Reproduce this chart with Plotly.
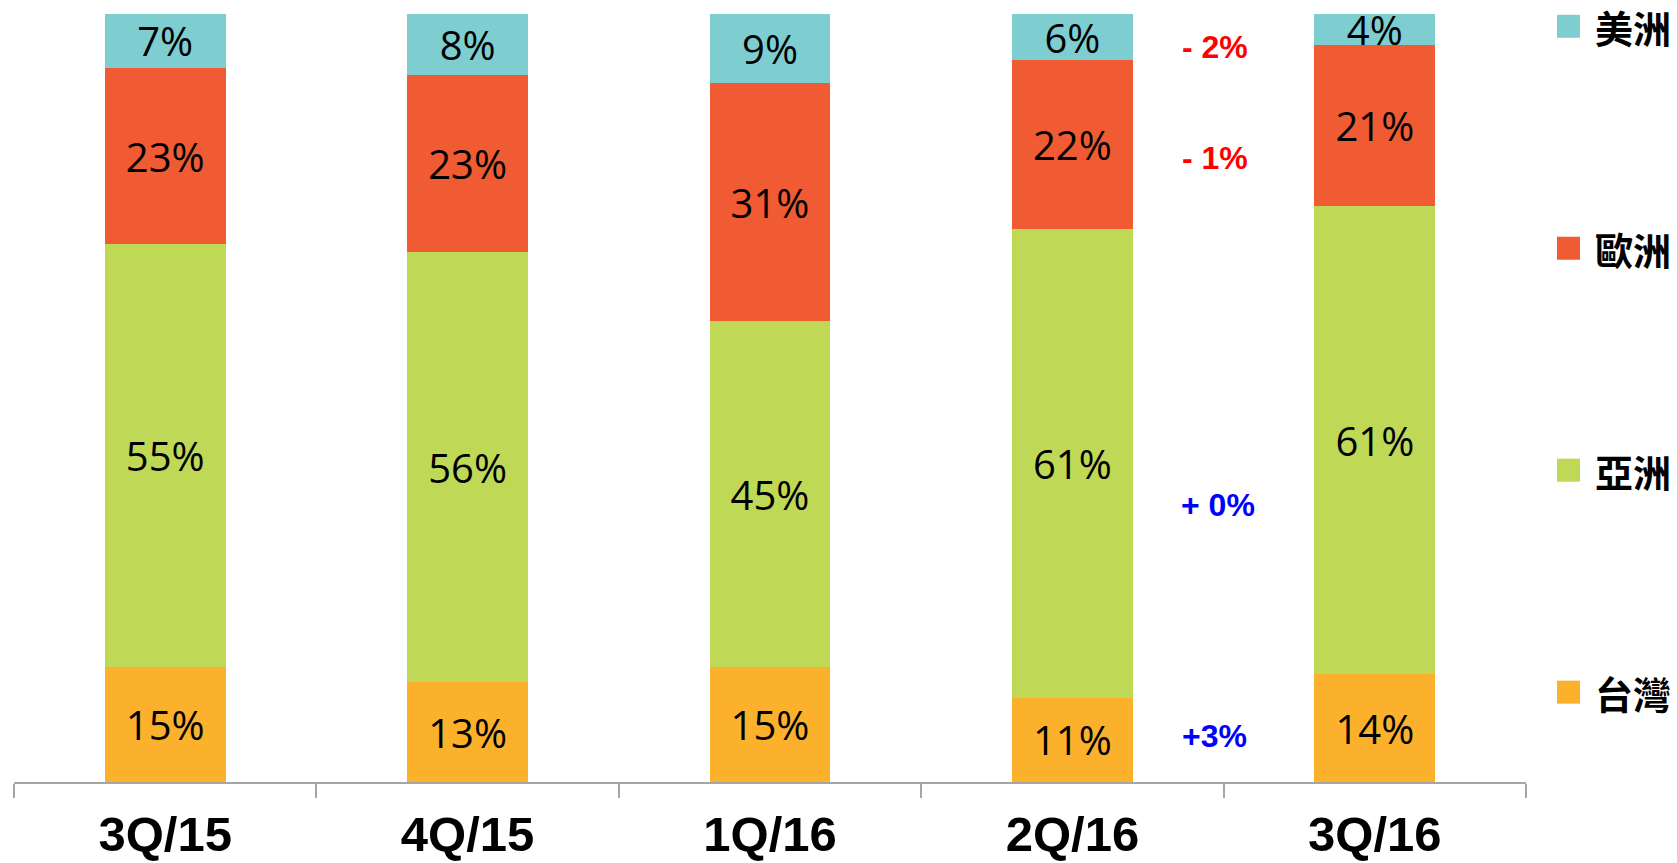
import plotly.graph_objects as go

categories = ["3Q/15", "4Q/15", "1Q/16", "2Q/16", "3Q/16"]
series_names = ["台灣", "亞洲", "歐洲", "美洲"]
taiwan = [15, 13, 15, 11, 14]
asia = [55, 56, 45, 61, 61]
europe = [23, 23, 31, 22, 21]
americas = [7, 8, 9, 6, 4]
series_values = [taiwan, asia, europe, americas]
colors = ["#FBB12B", "#BFD957", "#F05B33", "#7ECED1"]

change_labels = ["+3%", "+ 0%", "- 1%", "- 2%"]
change_colors = ["#0000FF", "#0000FF", "#FF0000", "#FF0000"]

fig = go.Figure()
for name, vals, col in zip(series_names, series_values, colors):
    fig.add_trace(go.Bar(
        x=categories, y=vals, name=name,
        marker=dict(color=col, line=dict(width=0)),
        text=[f"{v}%" for v in vals],
        textposition="inside", insidetextanchor="middle",
        textangle=0, constraintext="none",
        textfont=dict(family="Open Sans", size=40, color="black"),
        cliponaxis=False, showlegend=False,
    ))

# legend drawn as squares + labels (top to bottom: 美洲, 歐洲, 亞洲, 台灣)
legend_y = [0.117, 0.406, 0.695, 0.984]
for name, col, ly in zip(series_names, colors, legend_y):
    h = 11.5 / 768
    fig.add_shape(type="rect", xref="paper", yref="paper",
                  x0=1.0205, x1=1.0357, y0=ly - h, y1=ly + h,
                  fillcolor=col, line=dict(width=0))
    fig.add_annotation(xref="paper", yref="paper", x=1.0440, y=ly,
                       text=f"<b>{name}</b>", showarrow=False,
                       xanchor="left", yanchor="middle",
                       font=dict(family="Noto Sans CJK TC", size=38, color="black"))

change_y = [6.0, 36.1, 81.2, 95.7]
change_x = [3.47, 3.48, 3.47, 3.47]
for t, c, cx, cy in zip(change_labels, change_colors, change_x, change_y):
    fig.add_annotation(xref="x", yref="y", x=cx, y=cy, text=f"<b>{t}</b>",
                       showarrow=False, xanchor="center", yanchor="middle",
                       font=dict(family="Liberation Sans", size=32, color=c))

fig.update_layout(
    barmode="stack", bargap=0.6,
    width=1677, height=863,
    margin=dict(l=14, r=151, t=14, b=81, autoexpand=False),
    plot_bgcolor="white", paper_bgcolor="white",
)
fig.update_xaxes(
    type="category", range=[-0.5, 4.5], automargin=False,
    showline=True, linecolor="#A6A6A6", linewidth=1.5,
    ticks="outside", tickson="boundaries", ticklen=14, tickcolor="#A6A6A6", tickwidth=1.5,
    tickfont=dict(family="Liberation Sans", size=49, color="black"),
    tickprefix="<b>", ticksuffix="</b>", ticklabelstandoff=8,
    showgrid=False,
)
fig.update_yaxes(range=[0, 100], visible=False, showgrid=False)

fig.write_html("out.html")
